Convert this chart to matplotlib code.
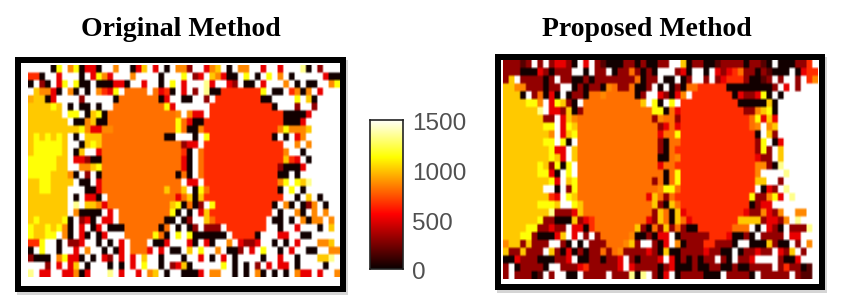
import numpy as np
import matplotlib
matplotlib.use("Agg")
import matplotlib.pyplot as plt
from matplotlib.patches import Rectangle

W, H = 843, 308

# valor de cada letra de las filas de abajo (los espacios solo separan zonas)
codigos = {'.': 1500, 'k': 20, 'D': 170, 'd': 310, 'r': 500, 'R': 650, 'O': 800, 'o': 850,
           'f': 930, 'g': 1000, 'y': 1130, 'p': 1330}

original = [
    "....ky.oykrrk..o..krg.r.k.ood..rog.k.oo..r..r...pk.d...",
    "RRk..r...k.ryor...o....k...y.dr.gorkk.y.k.y.o.k.....rkk",
    "k.dk.ry.ykk.kkkrrk..r..k.y.r...pr..rd.kk.r...o.k.kk..oy",
    ".goork.ok.k.o Rry.OOOO.OrRk.r.d .pkkRRRRRRRy.kk .Roko.r...",
    "fggkr....d... ..kOOOOOOOkr..kk. .d.RRRRRRRRkk.. ..y.gk....",
    "ggggyg.k.kk.k ..OOOOOOOOOyr.... ..RRRRRRRRRRRk. ..d..d....",
    "gggggg.yy.kgy kOOOOOOOOOOOOo.or r.RRRRRRRRRRRRR kkkkr.....",
    "ggggggg.kkogk kOOOOOOOOOOOOyOrk kRRRRRRRRRRRRRR kkkr......",
    "gggggggggyorr ooOOOOOOOOOOOyOkk oRRRRRRRRRRRRRo yooog.....",
    "gygygyg.k.ggg OOOOOOOOOOOkk...k .yRRRRRRRRRRRk. k.ro......",
    "gyyyyyg..kgyg OOOOOOOOOOOOOOdrr .RRRRRRRRRRRRRR ..o.o.....",
    "gyyyyyg.kg..r OOOOOOOOOOOOOORk. ORRRRRRRRRRRRRR o..k......",
    "yyyyygg.rrdkk OOOOOOOOOOOOOOrk. ORRRRRRRRRRRRRR gRr.k.....",
    "yyyyygg..oogy OOOOOOOOOOOOOOrk. ORRRRRRRRRRRRRd kkkr......",
    "yyyygggok.d.k OOOOOOOOOOOOOkOk. ORRRRRRRRRRRRRk k.k.......",
    "ggyygggg.kk.r OOOOOOOOOOOOOO.rr .RRRRRRRRRRRRRo y.ygp.....",
    "ggyyggg...kkr OOOOOOOOOOOgOOg.k yORRRRRRRRRRRRk .y.k......",
    "ggggggg.k.rrk .OOOOOOOOOOOOrOgk gRRRRRRRRRRRRRR ..k.g.k...",
    "ggggggg.p.ggo rOOOOOOOOOOOgykOk d.yRRRRRRRRRRk. ok.kdo.k..",
    "ggggggg.okkkk .r.OOOOOOOOOyk.k. rgRRRRRRRRRRR.k ..ok.o.o..",
    "gyggggyk.drk. rr.OOOOOOOOkk.kd. .gORRRRRRRRR.kk .k.okoo.o.",
    "yggygyok.r.kr .kkkOOOOOOkO.k.kd .ddd.RRRRRRR..k ..r...k.g.",
    "yggyy.ok.rk.k r...OOOOOyOk.y.yk kkkkk.RRRRk...r r..kk.....",
    "RRy..k.ddr..k .k.r.OOO.kkr...rk .rk..o.rddr..k. k.r...oog.",
    "k.y..k..r.o.. k.kr.OOOr.r.kk.g. y..o.kkd.r.y..k .r..kk..oo",
    "dkkk.oyrrk.k.rd.r.r.g..k...k..r.k.r.k....k..r..k...ggp.",
    "...d.r.rg.k...k.k.r.y..k.drgk.....y.k.k.d.r.rr.k....k..",
    "p.rr..rrokr...p.r..r.og.k..kkkr.oo..k.k.ok.k.k.orr.r..o",
]

propuesto = [
    "dddDd.d.drrdk.r.dDkkkddkdkkdd..gkddkkDddddkddDk.kkkddR",
    "dddkkkrdkddd..k.dd.kddOdkdk...drk..k.rdrROddkdDkkk.krRR",
    "dg.ddddkd.ddkkdkdddddddOkdd.kk.kd..d.drRRRdkkDd.d..d.Ro",
    "ggoodddkdd..kdkddkoOddOkkd.k.kdkOORRRRRkkkkkkkkd.r.d...",
    "gggk.dOkrk.kddkOOoOOOOOkd..rdkro.RRRRRRRkrddryk.k......",
    "ggggyyo.rygdk .OOOOOOOOOOg.yk.y .RRRRRRRRRRkkkk kgk.......",
    "ggggggp.rrdgk dOOOOOOOOOOOOyykO rRRRRRRRRRRRddo gyk.......",
    "gggggggdd.rgo OOOOOOOOOOOOOdoOO dRRRRRRRRRRRROy rgr.......",
    "gggggggyy.ryg OOOOOOOOOOOOOOdrO rRRRRRRRRRRRROo .og.......",
    "ggggggggo.rgy OOOOOOOOOOOOOOrOO yRRRRRRRRRRRRRk .gd.......",
    "gggggggyy.yk. OOOOOOOOOOOOOOdkO ORRRRRRRRRRRRRd y.kr......",
    "ggggggggyrr.g OOOOOOOOOOOOOOdkO RRRRRRRRRRRRRRd yd.g......",
    "ggggggggygr.g OOOOOOOOOOOOOOkkO oRRRRRRRRRRRRRr dd.g......",
    "ggggggygdyky. OOOOOOOOOOOOOOrOO RRRRRRRRRRRRRRo odkp......",
    "ggggggyyrk.y. OOOOOOOOOOOOOOOkO yRRRRRRRRRRRRRo ....p.....",
    "ggggggggyr.gy OOOOOOOOOOOOOdOkO yRRRRRRRRRRRRRg g..d......",
    "ggggggg..k.dy OOOOOOOOOOOOOOoyy ORRRRRRRRRRRRR. krd.p.....",
    "ggggggggRr.yg OOOOOOOOOOOOrgOdO RRRRRRRRRRRRRyd doyr.p....",
    "ggggggyyyg..y gOOOOOOOOOOOOgdkg ORRRRRRRRRRRRkd rr........",
    "ggggggggpdddr gOOOOOOOOOOOOdgOk grRRRRRRRRRRrdd ordo..oo..",
    "ggggggyddkkkg drROOOOOOOOOrdgOk gOrRRRRRRRRgggg drrdo.p...",
    "ggggyyddrdd.r rkROOOOOOOgdkOdgd OdkkRRRRRROOO.k .rdk.dddp.",
    "gggyydkkkrg.r .d.dOOOOOokkdkrr. kdddddRRRrkkdk. dddd.rr...",
    "oggdgddd..dk. k.dddOOOogd..dkr. okdddRRdddk..kk kgdkk.d.o.",
    "gddgddd.gdkrkdkddOdOoddddrdkgkkddddrddkk.kddrdd.rdg.d.",
    "kkrdddkkkddr.kkddkddr.dkdddr.rkdkdkdd.dk.ddr....dkkr..",
    "d.kddddk..dddrRdddddr.rddddkdrkkkdkkddkkdkkdddd.dRddkD",
    "d.dddkD.d..kk.dddd.dddpkp.dkr.kddddkkk.ddddk.ddddd.dDD",
]

marcas = [0, 500, 1000, 1500]


def a_matriz(filas):
    limpias = [f.replace(' ', '').ljust(55, '.')[:55] for f in filas]
    return np.array([[codigos[c] for c in f] for f in limpias], dtype=float)


def caja(x0, y0, x1, y1):
    # pixeles de la imagen (y hacia abajo) a fraccion de la figura
    return [x0 / W, 1 - y1 / H, (x1 - x0) / W, (y1 - y0) / H]


fig = plt.figure(figsize=(W / 100, H / 100), dpi=100)

# fondo en pixeles para los marcos, debajo de los mapas
fondo = fig.add_axes([0, 0, 1, 1], zorder=-1)
fondo.set_xlim(0, W)
fondo.set_ylim(H, 0)
fondo.axis('off')


def panel(datos, titulo, xt, yt, borde, mapa):
    x0, y0, x1, y1 = borde
    # sombra suave y marco negro
    fondo.add_patch(Rectangle((x0 + 2, y0 + 3), x1 - x0, y1 - y0, color='#d5d5d5', lw=0))
    fondo.add_patch(Rectangle((x0, y0), x1 - x0, y1 - y0, color='black', lw=0))
    fondo.add_patch(Rectangle((x0 + 6, y0 + 6), x1 - x0 - 12, y1 - y0 - 12, color='white', lw=0))
    ax = fig.add_axes(caja(*mapa))
    # repetir cada celda y suavizar un poco, el original esta borroso
    fino = np.repeat(np.repeat(datos, 3, axis=0), 3, axis=1)
    ax.imshow(fino, cmap='hot', vmin=0, vmax=1500, aspect='auto',
              interpolation='bilinear', interpolation_stage='rgba')
    ax.axis('off')
    fig.text(xt / W, 1 - yt / H, titulo, ha='center', va='center', fontsize=20,
             fontweight='bold', family='Liberation Serif')


panel(a_matriz(original), "Original Method", 181, 30, (15, 57, 346, 292), (28, 65, 340, 277))
panel(a_matriz(propuesto), "Proposed Method", 647, 30, (495, 54, 825, 290), (503, 60, 818, 279))

# barra de color
cax = fig.add_axes(caja(370, 120, 403, 269))
gradiente = np.linspace(1500, 0, 256).reshape(-1, 1)
cax.imshow(gradiente, cmap='hot', vmin=0, vmax=1500, aspect='auto', extent=[0, 1, 0, 1500])
cax.set_xticks([])
cax.set_yticks([])
for s in cax.spines.values():
    s.set_linewidth(1.2)
    s.set_color('#222222')
for v in marcas:
    cax.text(1.27, v - 45, str(v), ha='left', va='center', fontsize=17.5, color='#505050',
             family='Liberation Sans')

fig.savefig("out.png", dpi=100)
